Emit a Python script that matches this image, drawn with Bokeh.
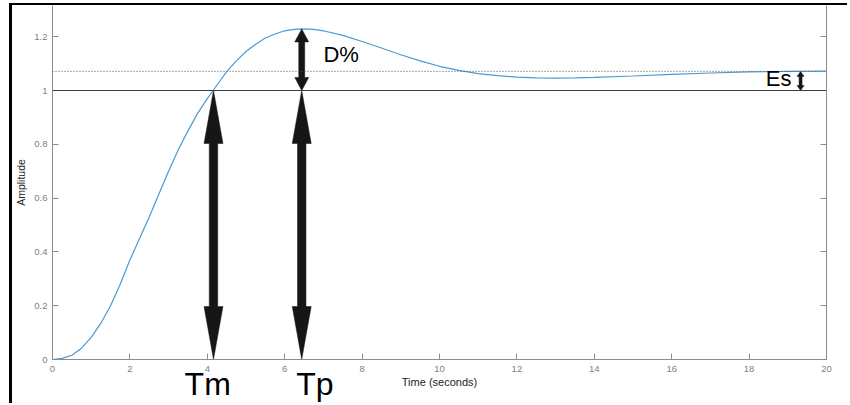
from bokeh.plotting import figure
from bokeh.models import Range1d, LinearAxis, Span, Label, FixedTicker
from bokeh.embed import file_html
from bokeh.resources import INLINE

# ---- data ----
time_s = [0, 0.25, 0.5, 0.75, 1.0, 1.25, 1.5, 1.75, 2.0, 2.25, 2.5, 2.75, 3.0, 3.25,
          3.5, 3.75, 4.0, 4.15, 4.35, 4.5, 4.75, 5.0, 5.25, 5.5, 5.75, 6.0, 6.25, 6.44,
          6.75, 7.0, 7.5, 8.0, 8.5, 9.0, 9.5, 10.0, 10.5, 11.0, 11.5, 12.0, 12.5, 13.0,
          13.5, 14.0, 15.0, 16.0, 17.0, 18.0, 19.0, 20.0]
amplitude = [0, 0.004, 0.016, 0.042, 0.082, 0.135, 0.2, 0.28, 0.37, 0.45, 0.53, 0.615,
             0.70, 0.78, 0.85, 0.915, 0.97, 1.0, 1.04, 1.07, 1.11, 1.145, 1.172, 1.195,
             1.21, 1.222, 1.227, 1.229, 1.227, 1.222, 1.205, 1.182, 1.158, 1.133, 1.11,
             1.09, 1.075, 1.063, 1.055, 1.05, 1.047, 1.046, 1.047, 1.049, 1.054, 1.06,
             1.065, 1.069, 1.071, 1.072]

x_ticks = [0, 2, 4, 6, 8, 10, 12, 14, 16, 18, 20]
y_ticks = [0, 0.2, 0.4, 0.6, 0.8, 1.0, 1.2]
y_tick_labels = ["0", "0.2", "0.4", "0.6", "0.8", "1", "1.2"]

reference_level = 1.0
steady_state = 1.071
peak_value = 1.229
t_rise = 4.16     # Tm
t_peak = 6.44     # Tp
t_es = 19.33      # Es arrow position

# big time labels under the axis (centres of the words)
time_label_pos = [4.01, 6.78]
time_label_text = ["Tm", "Tp"]

X_MAX = 20.0
Y_MAX = 1.316

FIG_W, FIG_H = 838, 400
B_LEFT, B_RIGHT, B_TOP, B_BOTTOM = 38, 24, 0, 46
FRAME_W = FIG_W - B_LEFT - B_RIGHT
FRAME_H = FIG_H - B_TOP - B_BOTTOM
PX_X = X_MAX / FRAME_W
PX_Y = Y_MAX / FRAME_H

p = figure(width=FIG_W, height=FIG_H, output_backend="svg", toolbar_location=None,
           x_range=Range1d(0, X_MAX), y_range=Range1d(0, Y_MAX),
           min_border_left=B_LEFT, min_border_right=B_RIGHT,
           min_border_top=B_TOP, min_border_bottom=B_BOTTOM,
           x_axis_label="Time (seconds)", y_axis_label="Amplitude")
p.styles = {"margin-left": "9px", "margin-top": "3px",
            "border-left": "3px solid black", "border-top": "2px solid black"}
p.outline_line_color = None
p.xgrid.visible = False
p.ygrid.visible = False
p.background_fill_color = "white"
p.border_fill_color = "white"

AX_COL = "#8c8c8c"
FONT = "Liberation Sans"

for ax in (p.xaxis[0], p.yaxis[0]):
    ax.axis_line_color = AX_COL
    ax.major_tick_line_color = AX_COL
    ax.major_tick_in = 6
    ax.major_tick_out = 0
    ax.minor_tick_line_color = None
    ax.major_label_text_color = "#808080"
    ax.major_label_text_font = FONT
    ax.major_label_text_font_size = "9.5px"
    ax.axis_label_text_font = FONT
    ax.axis_label_text_font_style = "normal"
    ax.axis_label_text_color = "#222222"

p.xaxis.axis_label_text_font_size = "11px"
p.yaxis.axis_label_text_font_size = "10.5px"
p.xaxis.ticker = FixedTicker(ticks=x_ticks, minor_ticks=[])
p.yaxis.ticker = FixedTicker(ticks=y_ticks, minor_ticks=[])
p.yaxis.major_label_overrides = {t: s for t, s in zip(y_ticks, y_tick_labels)}
p.xaxis.major_label_standoff = 6
p.xaxis.axis_label_standoff = 1
p.yaxis.major_label_standoff = 5
p.yaxis.axis_label_standoff = 4

right = LinearAxis(ticker=FixedTicker(ticks=y_ticks, minor_ticks=[]), axis_line_color=AX_COL,
                   major_tick_line_color=AX_COL, major_tick_in=6, major_tick_out=0,
                   minor_tick_line_color=None, major_label_text_color=None)
p.add_layout(right, "right")

# axis carrying the big "Tm" / "Tp" words, tucked up under the time axis
word_axis = LinearAxis(ticker=FixedTicker(ticks=time_label_pos, minor_ticks=[]),
                       major_label_overrides={t: s for t, s in zip(time_label_pos, time_label_text)},
                       axis_line_color=None, major_tick_line_color=None,
                       minor_tick_line_color=None, major_tick_in=0, major_tick_out=0,
                       major_label_text_font=FONT, major_label_text_font_size="32px",
                       major_label_text_color="black", major_label_standoff=-25)
p.add_layout(word_axis, "below")

# reference lines
p.add_layout(Span(location=reference_level, dimension="width",
                  line_color="#3c3c3c", line_width=1))
p.add_layout(Span(location=steady_state, dimension="width",
                  line_color="#555555", line_width=1, line_dash="1 2"))

# response curve
p.line(time_s, amplitude, line_color="#4a9bd0", line_width=1.2)


def double_arrow(x, y0, y1, head_len_px, head_w_px, shaft_w_px):
    hl = head_len_px * PX_Y
    hw = head_w_px * PX_X / 2
    sw = shaft_w_px * PX_X / 2
    xs = [x, x + hw, x + sw, x + sw, x + hw, x, x - hw, x - sw, x - sw, x - hw]
    ys = [y1, y1 - hl, y1 - hl, y0 + hl, y0 + hl, y0, y0 + hl, y0 + hl, y1 - hl, y1 - hl]
    return xs, ys


arrows = [
    double_arrow(t_rise, 0, reference_level, 53, 19, 8.5),
    double_arrow(t_peak, 0, reference_level, 53, 19, 8.5),
    double_arrow(t_peak, reference_level, peak_value, 13, 14, 6),
    double_arrow(t_es, reference_level, steady_state, 5, 7, 3),
]
p.patches([a[0] for a in arrows], [a[1] for a in arrows],
          fill_color="#161616", line_color="#161616", line_width=0.5)


def add_label(text, x, y, size):
    p.add_layout(Label(x=x, y=y, text=text, text_font=FONT, text_font_size=size,
                       text_color="black", text_baseline="alphabetic", text_align="left"))


add_label("D%", t_peak + 0.56, 1.134, "22px")
add_label("Es", 18.43, 1.043, "22px")

open("out.html", "w").write(file_html(p, INLINE))
